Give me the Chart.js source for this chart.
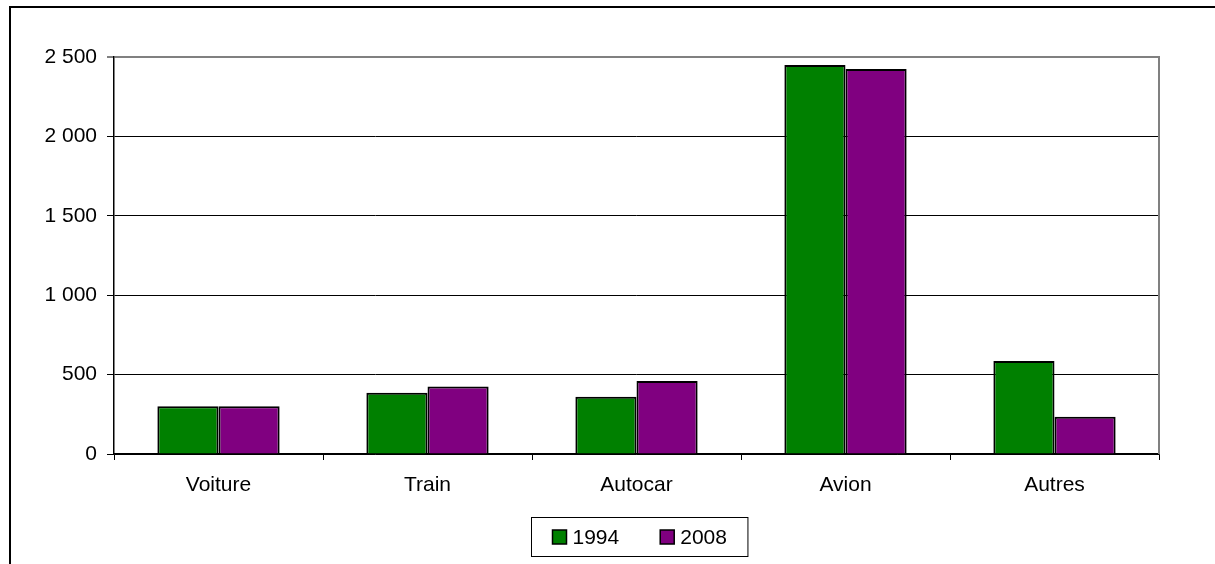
<!DOCTYPE html>
<html lang="fr">
<head>
<meta charset="utf-8">
<title>Modes de transport 1994 / 2008</title>
<script src="https://cdn.jsdelivr.net/npm/chart.js@4/dist/chart.umd.min.js"></script>
<style>
  html, body { margin: 0; padding: 0; background: #fff; }
  #wrap { width: 1215px; height: 564px; position: relative; }
</style>
</head>
<body>
<div id="wrap"><canvas id="c" width="1215" height="564"></canvas></div>
<script>
// Catégories et valeurs
const categories = ['Voiture', 'Train', 'Autocar', 'Avion', 'Autres'];
const seriesLabels = ['1994', '2008'];
const values1994 = [300, 385, 360, 2450, 585];
const values2008 = [300, 425, 460, 2425, 235];
const yTicks = [0, 500, 1000, 1500, 2000, 2500];

const FONT = '"Liberation Sans", Arial, sans-serif';
Chart.defaults.font.family = FONT;
Chart.defaults.font.size = 21;
Chart.defaults.color = '#000';

// Séparateur de milliers : espace
const fmt = v => String(v).replace(/\B(?=(\d{3})+(?!\d))/g, ' ');

// Cadre extérieur, bordure droite de la zone de tracé et légende encadrée
const decor = {
  id: 'decor',
  afterDraw(chart) {
    const ctx = chart.ctx;
    const a = chart.chartArea;
    ctx.save();
    // cadre extérieur
    ctx.strokeStyle = '#000';
    ctx.lineWidth = 2;
    ctx.strokeRect(10, 7, chart.width + 20, chart.height + 20);
    // bordure droite de la zone de tracé
    ctx.strokeStyle = '#808080';
    ctx.lineWidth = 2;
    ctx.beginPath();
    ctx.moveTo(a.right, a.top - 1);
    ctx.lineTo(a.right, a.bottom);
    ctx.stroke();

    // légende
    ctx.font = '21px ' + FONT;
    ctx.textBaseline = 'middle';
    ctx.textAlign = 'left';
    const sw = 14, gapText = 6, gapItem = 41, padX = 21;
    const items = chart.data.datasets.map(ds => ({
      label: ds.label, color: ds.backgroundColor, w: ctx.measureText(ds.label).width
    }));
    let content = 0;
    items.forEach((it, i) => { content += sw + gapText + it.w + (i ? gapItem : 0); });
    const boxW = content + padX * 2, boxH = 39;
    const cx = (a.left + a.right) / 2 + 3;
    const bx = Math.round(cx - boxW / 2) + 0.5;
    const by = a.bottom + 63.5;
    ctx.strokeStyle = '#000';
    ctx.lineWidth = 1;
    ctx.strokeRect(bx, by, boxW, boxH);
    let x = bx + padX;
    const my = by + boxH / 2;
    items.forEach((it, i) => {
      if (i) x += gapItem;
      ctx.fillStyle = it.color;
      ctx.fillRect(x, my - sw / 2, sw, sw);
      ctx.strokeStyle = '#000';
      ctx.lineWidth = 1.5;
      ctx.strokeRect(x, my - sw / 2, sw, sw);
      x += sw + gapText;
      ctx.fillStyle = '#000';
      ctx.fillText(it.label, x, my + 1);
      x += it.w;
    });
    ctx.restore();
  }
};

new Chart(document.getElementById('c'), {
  type: 'bar',
  data: {
    labels: categories,
    datasets: [
      { label: seriesLabels[0], data: values1994, backgroundColor: '#008000' },
      { label: seriesLabels[1], data: values2008, backgroundColor: '#800080' }
    ]
  },
  options: {
    responsive: false,
    animation: false,
    devicePixelRatio: 1,
    layout: { padding: { left: 0, right: 56, top: 57, bottom: 0 } },
    datasets: {
      bar: {
        borderColor: '#000',
        borderWidth: 2,
        borderSkipped: 'bottom',
        categoryPercentage: 0.585,
        barPercentage: 1
      }
    },
    plugins: {
      legend: { display: false },
      tooltip: { enabled: false }
    },
    scales: {
      x: {
        offset: true,
        afterFit: s => { s.height = 110; },
        grid: {
          offset: true,
          drawOnChartArea: false,
          drawTicks: true,
          tickLength: 6,
          tickColor: '#000',
          tickWidth: 1
        },
        border: { display: true, color: '#000', width: 1.5 },
        ticks: { padding: 13, color: '#000', font: { size: 21 } }
      },
      y: {
        min: 0,
        max: yTicks[yTicks.length - 1],
        afterFit: s => { s.width = 114; },
        afterBuildTicks: s => { s.ticks = yTicks.map(v => ({ value: v })); },
        grid: {
          color: c => (c.tick && c.tick.value === yTicks[yTicks.length - 1]) ? '#808080' : '#000',
          lineWidth: c => (c.tick && c.tick.value === yTicks[yTicks.length - 1]) ? 2 : 1,
          drawTicks: true,
          tickLength: 7,
          tickColor: '#000',
          tickWidth: 1
        },
        border: { display: true, color: '#000', width: 1.5 },
        ticks: { padding: 10, color: '#000', font: { size: 21 }, callback: v => fmt(v) }
      }
    }
  },
  plugins: [decor]
});
</script>
</body>
</html>
